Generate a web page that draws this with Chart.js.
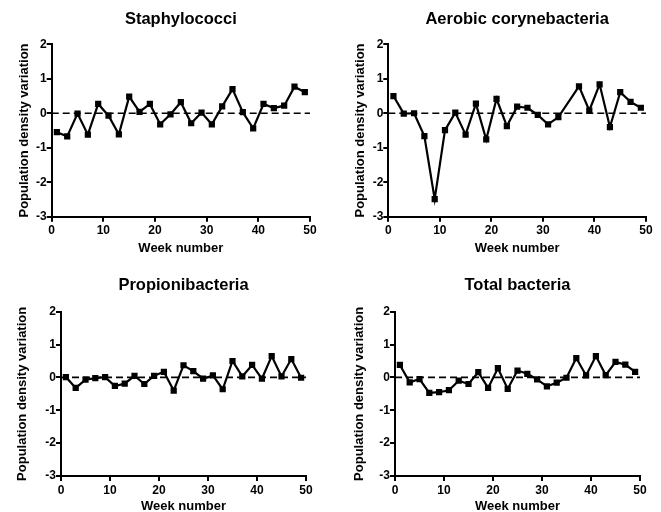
<!DOCTYPE html>
<html>
<head>
<meta charset="utf-8">
<script src="https://cdn.jsdelivr.net/npm/chart.js@4"></script>
<style>
  body { margin: 0; background: #fff; }
  #wrap { position: relative; width: 661px; height: 512px; }
  .panel { position: absolute; }
</style>
</head>
<body>
<div id="wrap">
  <div class="panel" style="left:0;top:0;width:330px;height:260px"><canvas id="staph"></canvas></div>
  <div class="panel" style="left:330px;top:0;width:331px;height:260px"><canvas id="coryne"></canvas></div>
  <div class="panel" style="left:0;top:260px;width:330px;height:252px"><canvas id="propioni"></canvas></div>
  <div class="panel" style="left:330px;top:260px;width:331px;height:252px"><canvas id="total"></canvas></div>
</div>
<script>
const weeks = [1, 3, 5, 7, 9, 11, 13, 15, 17, 19, 21, 23, 25, 27, 29, 31, 33, 35, 37, 39, 41, 43, 45, 47, 49];

const staphylococci = [-0.55, -0.67, -0.01, -0.62, 0.27, -0.07, -0.61, 0.48, 0.04, 0.27, -0.32, -0.03, 0.32,
    -0.29, 0.02, -0.32, 0.2, 0.7, 0.03, -0.44, 0.27, 0.15, 0.22, 0.77, 0.61];
// week 35 has no value for this one
const corynebacteria = [0.5, -0.01, 0.0, -0.66, -2.49, -0.49, 0.02, -0.62, 0.28, -0.76, 0.42, -0.37, 0.19,
    0.16, -0.05, -0.32, -0.11, null, 0.78, 0.08, 0.84, -0.4, 0.61, 0.33, 0.16];
const propionibacteria = [0.01, -0.32, -0.07, -0.02, 0.01, -0.26, -0.19, 0.05, -0.2, 0.05, 0.17, -0.4, 0.37,
    0.19, -0.04, 0.06, -0.36, 0.5, 0.03, 0.38, -0.04, 0.65, 0.03, 0.56, -0.01];
const totalBacteria = [0.38, -0.15, -0.05, -0.47, -0.45, -0.39, -0.1, -0.2, 0.16, -0.32, 0.28, -0.35, 0.21,
    0.11, -0.06, -0.27, -0.16, -0.01, 0.59, 0.06, 0.65, 0.07, 0.47, 0.39, 0.17];

const xTicks = [0, 10, 20, 30, 40, 50];
const yTicks = [-3, -2, -1, 0, 1, 2];
const baseline = [0, 0];

const FONT = "'Liberation Sans', Arial, sans-serif";

function makePanel(id, title, values, box) {
    const w = box.w, h = box.h;
    const padLeft = box.yTitleX - 7.8;
    const padBottom = h - box.xTitleY - 7.8;
    const points = [];
    weeks.forEach((wk, i) => { if (values[i] !== null) points.push({x: wk, y: values[i]}); });

    new Chart(document.getElementById(id), {
        type: 'line',
        data: {
            datasets: [
                {
                    data: points,
                    borderColor: '#000',
                    backgroundColor: '#000',
                    borderWidth: 2.2,
                    pointStyle: 'rect',
                    pointRadius: 4.4,
                    pointBorderWidth: 0,
                    pointBackgroundColor: '#000',
                    tension: 0,
                    spanGaps: true
                },
                {
                    data: [{x: xTicks[0], y: baseline[0]}, {x: xTicks[xTicks.length - 1], y: baseline[1]}],
                    borderColor: '#000',
                    borderWidth: 1.6,
                    borderDash: [7, 4],
                    pointRadius: 0
                }
            ]
        },
        options: {
            responsive: true,
            maintainAspectRatio: false,
            animation: false,
            layout: {
                padding: {left: padLeft, right: w - box.right, top: 0, bottom: padBottom}
            },
            plugins: {
                legend: {display: false},
                tooltip: {enabled: false},
                title: {
                    display: true,
                    text: title,
                    fullSize: false,
                    color: '#000',
                    font: {family: FONT, size: 16.5, weight: 'bold', lineHeight: 1.2},
                    padding: {top: box.titleY - 9.9, bottom: box.top - box.titleY - 9.9}
                }
            },
            scales: {
                x: {
                    type: 'linear',
                    min: 0,
                    max: 50,
                    afterFit: s => { s.height = box.xTitleY + 7.8 - box.bottom; },
                    afterBuildTicks: s => { s.ticks = xTicks.map(v => ({value: v})); },
                    border: {color: '#000', width: 2},
                    grid: {drawOnChartArea: false, drawTicks: true, tickLength: 5, color: '#000', lineWidth: 2},
                    ticks: {color: '#000', padding: 2, maxRotation: 0, font: {family: FONT, size: 12, weight: 'bold'}},
                    title: {display: true, text: 'Week number', color: '#000', padding: 0,
                        font: {family: FONT, size: 13, weight: 'bold', lineHeight: 1.2}}
                },
                y: {
                    min: -3,
                    max: 2,
                    afterFit: s => { s.width = box.left - padLeft; },
                    afterBuildTicks: s => { s.ticks = yTicks.map(v => ({value: v})); },
                    border: {color: '#000', width: 2},
                    grid: {drawOnChartArea: false, drawTicks: true, tickLength: 5, color: '#000', lineWidth: 2},
                    ticks: {color: '#000', padding: 0, font: {family: FONT, size: 12, weight: 'bold'}},
                    title: {display: true, text: 'Population density variation', color: '#000', padding: 0,
                        font: {family: FONT, size: 13, weight: 'bold', lineHeight: 1.2}}
                }
            }
        }
    });
}

makePanel('staph', 'Staphylococci', staphylococci,
    {w: 330, h: 260, left: 51.7, right: 310, top: 44.3, bottom: 216.7, titleY: 19, yTitleX: 24, xTitleY: 248});
makePanel('coryne', 'Aerobic corynebacteria', corynebacteria,
    {w: 331, h: 260, left: 58.3, right: 316, top: 44.3, bottom: 216.7, titleY: 19, yTitleX: 30, xTitleY: 248});
makePanel('propioni', 'Propionibacteria', propionibacteria,
    {w: 330, h: 252, left: 61, right: 306, top: 51.7, bottom: 216, titleY: 25.7, yTitleX: 22.5, xTitleY: 246.5});
makePanel('total', 'Total bacteria', totalBacteria,
    {w: 331, h: 252, left: 65, right: 310, top: 51.7, bottom: 216, titleY: 25.7, yTitleX: 29, xTitleY: 246.5});
</script>
</body>
</html>
